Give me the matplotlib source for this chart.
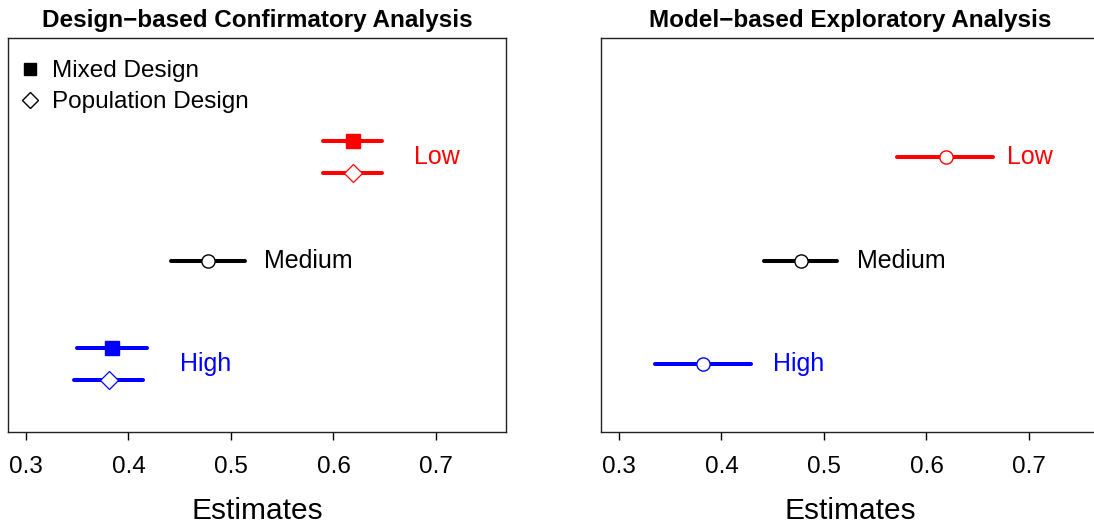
import matplotlib
matplotlib.use("Agg")
import matplotlib.pyplot as plt
from matplotlib.lines import Line2D

plt.rcParams['font.family'] = ['Liberation Sans', 'DejaVu Sans']

groups = ["High", "Medium", "Low"]
colors = ["#0000FF", "#000000", "#FF0000"]

# Design-based confirmatory analysis
mixed_est = [0.3839, None, 0.6187]
mixed_lo = [0.3500, None, 0.5895]
mixed_hi = [0.4183, None, 0.6476]
pop_est = [0.3807, None, 0.6193]
pop_lo = [0.3468, None, 0.5895]
pop_hi = [0.4144, None, 0.6473]
med_est = 0.4778
med_lo = 0.4418
med_hi = 0.5138

# Model-based exploratory analysis
model_est = [0.3820, 0.4772, 0.6187]
model_lo = [0.3351, 0.4415, 0.5715]
model_hi = [0.4285, 0.5130, 0.6652]

label_x = [0.4505, 0.532, 0.6785]
xticks = [0.3, 0.4, 0.5, 0.6, 0.7]

W, H = 1094, 527
fig = plt.figure(figsize=(W / 100, H / 100), dpi=100)
ax1 = fig.add_axes([8 / W, (H - 432) / H, 498 / W, 394 / H])
ax2 = fig.add_axes([601 / W, (H - 432) / H, 498 / W, 394 / H])

lw = 2.9
ms = 9.5
off = 0.15


def ci(ax, y, lo, hi, est, col, marker, mfc, msz, mew=1.0):
    ax.plot([lo, hi], [y, y], color=col, lw=lw, solid_capstyle='round', zorder=2)
    ax.plot([est], [y], marker=marker, color=col, mfc=mfc, mec=col, ms=msz,
            mew=mew, linestyle='none', zorder=3)


# Left panel
for i, g in enumerate(groups):
    y = i + 1
    if g == "Medium":
        ci(ax1, y, med_lo, med_hi, med_est, colors[i], 'o', 'white', ms)
    else:
        ci(ax1, y + off, mixed_lo[i], mixed_hi[i], mixed_est[i], colors[i], 's', colors[i], 9.5)
        ci(ax1, y - off, pop_lo[i], pop_hi[i], pop_est[i], colors[i], 'D', 'white', 9.3, 0.9)
    ax1.text(label_x[i], y, g, color=colors[i], fontsize=18, va='center', ha='left')

# Right panel
for i, g in enumerate(groups):
    y = i + 1
    ci(ax2, y, model_lo[i], model_hi[i], model_est[i], colors[i], 'o', 'white', ms)
    ax2.text(label_x[i], y, g, color=colors[i], fontsize=18, va='center', ha='left')

handles = [
    Line2D([], [], marker='s', color='black', mfc='black', ms=8.5, linestyle='none'),
    Line2D([], [], marker='D', color='black', mfc='white', ms=8.0, mew=1.0, linestyle='none'),
]
ax1.legend(handles, ["Mixed Design", "Population Design"], loc='upper left',
           frameon=False, fontsize=17.5, handlelength=0.8, handletextpad=0.5,
           labelspacing=0.36, borderaxespad=0.0, bbox_to_anchor=(0.005, 0.968))

for ax, title in [(ax1, "Design\u2212based Confirmatory Analysis"),
                  (ax2, "Model\u2212based Exploratory Analysis")]:
    ax.set_xlim(0.2825, 0.7683)
    ax.set_ylim(0.343, 4.15)
    ax.set_xticks(xticks)
    ax.set_xticklabels([f"{t:.1f}" for t in xticks], fontsize=17.5)
    ax.set_yticks([])
    ax.tick_params(axis='x', direction='out', length=6, width=1, pad=11)
    ax.set_xlabel("Estimates", fontsize=21.5, labelpad=14)
    ax.set_title(title, fontsize=17.5, fontweight='bold', pad=8)
    for s in ax.spines.values():
        s.set_linewidth(1.0)
        s.set_color('#222222')

fig.savefig("out.png", dpi=100)
